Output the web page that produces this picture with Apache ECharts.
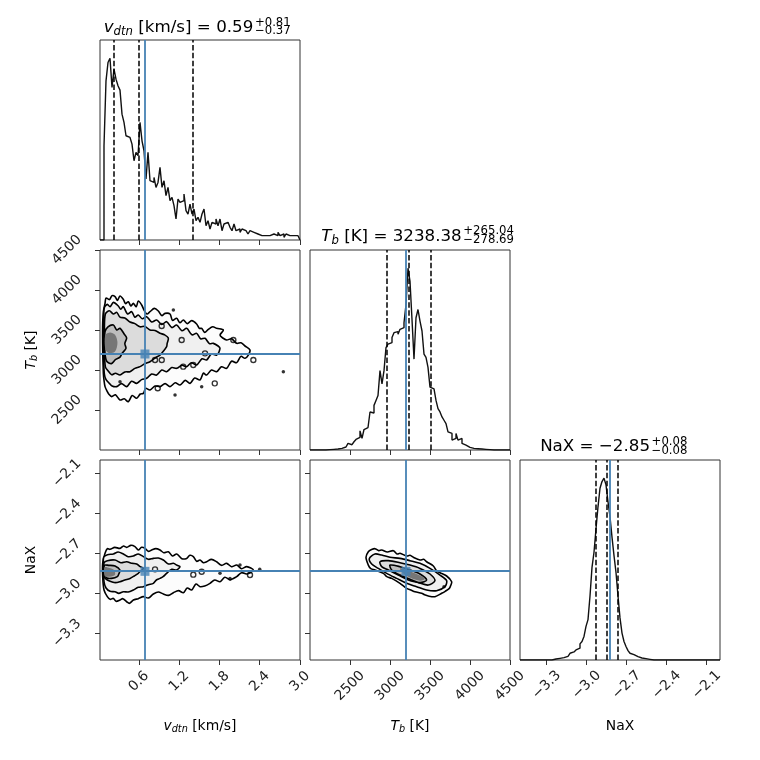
<!DOCTYPE html>
<html><head><meta charset="utf-8">
<script src="https://cdn.jsdelivr.net/npm/echarts@6/dist/echarts.min.js"></script>
<style>html,body{margin:0;padding:0;background:#fff}#c{width:760px;height:760px}</style>
</head><body><div id="c"></div>
<script>
// ---------------- data ----------------
const vRange = [0.02, 3.0];
const tRange = [2000, 4500];
const nRange = [-3.5, -2.0];
const vTicks = [0.6, 1.2, 1.8, 2.4, 3.0];
const tTicks = [2500, 3000, 3500, 4000, 4500];
const nTicks = [-3.3, -3.0, -2.7, -2.4, -2.1];
const truthV = 0.69, truthT = 3200, truthN = -2.835;
const vQuant = [0.22, 0.59, 1.40];
const tQuant = [2959.69, 3238.38, 3503.42];
const nQuant = [-2.93, -2.85, -2.77];

const histV = [
 0, 0, 283, 478, 533, 546, 458, 513, 483, 463,
 450, 378, 353, 313, 308, 303, 288, 238, 263, 253,
 353, 298, 268, 183, 263, 178, 173, 188, 158, 173,
 218, 158, 178, 133, 158, 118, 128, 103, 63, 123,
 113, 118, 138, 88, 78, 108, 78, 93, 58, 68,
 53, 78, 93, 43, 58, 33, 53, 48, 63, 43,
 63, 28, 48, 53, 53, 38, 28, 48, 28, 33,
 23, 33, 28, 28, 18, 28, 23, 18, 18, 13,
 13, 18, 13, 18, 13, 13, 18, 18, 13, 23,
 13, 18, 8, 18, 13, 8, 13, 8, 13, 8];
const histT = [
 0, 0, 0, 0, 0, 0, 0, 0, 0, 1,
 1, 2, 2, 3, 4, 5, 7, 9, 12, 20,
 16, 22, 25, 32, 38, 58, 35, 62, 68, 72,
 115, 112, 135, 150, 165, 240, 200, 240, 310, 320,
 325, 340, 355, 358, 350, 365, 370, 385, 440, 550,
 510, 395, 275, 400, 425, 390, 360, 290, 280, 250,
 190, 185, 180, 150, 125, 115, 100, 90, 80, 55,
 50, 30, 35, 50, 30, 35, 20, 15, 10, 8,
 7, 5, 5, 4, 3, 3, 2, 2, 1, 1,
 0, 0, 0, 0, 0, 0, 0, 0, 0, 0];
const histN = [
 0, 0, 0, 0, 0, 0, 0, 0, 0, 0,
 0, 0, 0, 0, 0, 0, 2, 3, 4, 5,
 6, 7, 9, 11, 14, 20, 24, 25, 30, 35,
 48, 55, 70, 100, 120, 190, 275, 320, 390, 455,
 510, 530, 540, 520, 470, 425, 365, 310, 260, 190,
 125, 80, 55, 40, 28, 20, 16, 12, 10, 7,
 6, 5, 4, 3, 2, 0, 0, 0, 0, 0,
 0, 0, 0, 0, 0, 0, 0, 0, 0, 0,
 0, 0, 0, 0, 0, 0, 0, 0, 0, 0,
 0, 0, 0, 0, 0, 0, 0, 0, 0, 0];

// contours: v_dtn vs T_b
const vtC1 = [[0.095,3833],[0.11,3900],[0.16,3880],[0.2,3930],[0.244,3917],[0.28,3870],[0.318,3925],[0.368,3883],[0.40,3830],[0.442,3854],[0.48,3800],[0.517,3833],[0.56,3790],[0.591,3862],[0.641,3812],[0.676,3750],[0.72,3700],[0.765,3729],[0.83,3770],[0.889,3737],[0.94,3680],[0.989,3708],[1.063,3700],[1.10,3620],[1.162,3646],[1.21,3590],[1.262,3625],[1.32,3580],[1.386,3617],[1.460,3575],[1.50,3520],[1.535,3521],[1.58,3470],[1.634,3508],[1.70,3540],[1.758,3521],[1.858,3500],[1.808,3437],[1.85,3400],[1.907,3375],[1.98,3390],[2.057,3333],[2.12,3340],[2.181,3300],[2.255,3250],[2.230,3187],[2.181,3146],[2.12,3170],[2.057,3092],[1.98,3110],[1.907,3021],[1.83,3040],[1.758,2979],[1.68,3000],[1.609,2937],[1.56,2960],[1.510,2875],[1.43,2900],[1.361,2833],[1.29,2870],[1.212,2812],[1.14,2840],[1.063,2792],[0.99,2830],[0.914,2792],[0.84,2800],[0.765,2750],[0.70,2770],[0.666,2708],[0.62,2700],[0.566,2646],[0.50,2680],[0.442,2604],[0.38,2640],[0.318,2625],[0.25,2690],[0.194,2667],[0.150,2700],[0.129,2729],[0.095,2792],[0.080,2870],[0.070,2958],[0.065,3100],[0.060,3250],[0.058,3420],[0.060,3583],[0.070,3729]];
const vtC2 = [[0.085,3780],[0.13,3820],[0.17,3790],[0.22,3845],[0.293,3800],[0.33,3760],[0.368,3792],[0.43,3700],[0.492,3729],[0.54,3660],[0.591,3687],[0.65,3640],[0.715,3667],[0.79,3600],[0.864,3625],[0.94,3570],[1.013,3604],[1.09,3530],[1.162,3562],[1.24,3490],[1.311,3521],[1.39,3440],[1.460,3458],[1.52,3390],[1.585,3396],[1.65,3330],[1.709,3333],[1.78,3300],[1.808,3271],[1.758,3187],[1.68,3200],[1.609,3125],[1.54,3140],[1.460,3062],[1.38,3090],[1.311,3042],[1.24,3060],[1.162,3021],[1.09,3030],[1.013,2979],[0.94,3000],[0.864,2937],[0.79,2950],[0.715,2896],[0.64,2880],[0.566,2833],[0.49,2860],[0.417,2792],[0.34,2830],[0.268,2792],[0.2,2800],[0.159,2833],[0.11,2880],[0.085,2950],[0.072,3167],[0.072,3400],[0.075,3600]];
const vtC3 = [[0.10,3700],[0.16,3740],[0.219,3700],[0.27,3720],[0.318,3660],[0.39,3650],[0.467,3600],[0.54,3580],[0.616,3540],[0.69,3545],[0.765,3500],[0.84,3495],[0.914,3460],[0.98,3440],[1.038,3400],[1.02,3330],[1.013,3292],[0.96,3230],[0.914,3187],[0.84,3150],[0.765,3104],[0.69,3080],[0.616,3042],[0.54,3020],[0.467,2979],[0.39,2975],[0.318,2937],[0.25,2960],[0.194,2940],[0.14,2990],[0.10,3040],[0.085,3250],[0.085,3500]];
const vtC4 = [[0.095,3480],[0.139,3540],[0.219,3562],[0.27,3500],[0.318,3521],[0.38,3450],[0.417,3400],[0.39,3330],[0.407,3270],[0.35,3210],[0.318,3160],[0.25,3130],[0.19,3080],[0.12,3110],[0.095,3200],[0.090,3350]];
const vtCore = [[0.10,3440],[0.17,3470],[0.244,3440],[0.28,3340],[0.244,3230],[0.16,3210],[0.10,3260]];
const vtRings = [[0.939,3550],[1.237,3375],[1.585,3208],[2.305,3125],[2.007,3375],[0.84,3125],[0.94,3125],[1.26,3042],[1.41,3062],[0.88,2771],[1.73,2833]];
const vtDots = [[2.752,2979],[1.535,2792],[1.138,2687],[1.113,3750],[0.318,2854]];

// contours: v_dtn vs NaX
const vnC1 = [[0.095,-2.700],[0.13,-2.665],[0.169,-2.670],[0.24,-2.655],[0.318,-2.663],[0.37,-2.645],[0.417,-2.655],[0.48,-2.640],[0.541,-2.650],[0.591,-2.675],[0.64,-2.655],[0.691,-2.663],[0.74,-2.685],[0.790,-2.675],[0.85,-2.665],[0.914,-2.675],[0.97,-2.695],[1.038,-2.688],[1.10,-2.720],[1.162,-2.705],[1.24,-2.740],[1.311,-2.738],[1.36,-2.715],[1.411,-2.725],[1.46,-2.760],[1.510,-2.750],[1.56,-2.770],[1.609,-2.763],[1.68,-2.745],[1.758,-2.763],[1.83,-2.790],[1.907,-2.775],[1.98,-2.800],[2.057,-2.788],[2.13,-2.815],[2.206,-2.800],[2.305,-2.825],[2.206,-2.855],[2.13,-2.845],[2.057,-2.875],[1.98,-2.895],[1.957,-2.900],[1.88,-2.880],[1.808,-2.913],[1.73,-2.900],[1.659,-2.925],[1.58,-2.945],[1.510,-2.950],[1.45,-2.930],[1.386,-2.975],[1.32,-2.960],[1.262,-2.995],[1.19,-2.980],[1.113,-2.995],[1.04,-3.015],[0.964,-3.005],[0.89,-2.990],[0.815,-3.005],[0.74,-3.035],[0.666,-3.025],[0.59,-3.040],[0.517,-3.050],[0.46,-3.075],[0.417,-3.063],[0.36,-3.040],[0.318,-3.050],[0.26,-3.060],[0.219,-3.038],[0.17,-3.045],[0.129,-3.025],[0.080,-2.975],[0.060,-2.875],[0.060,-2.775]];
const vnC2 = [[0.075,-2.73],[0.13,-2.71],[0.219,-2.705],[0.29,-2.690],[0.368,-2.705],[0.44,-2.725],[0.517,-2.720],[0.59,-2.705],[0.666,-2.725],[0.74,-2.745],[0.815,-2.738],[0.89,-2.735],[0.964,-2.750],[1.04,-2.780],[1.113,-2.775],[1.17,-2.790],[1.212,-2.800],[1.162,-2.825],[1.09,-2.820],[1.013,-2.850],[0.96,-2.875],[0.914,-2.888],[0.86,-2.900],[0.815,-2.925],[0.74,-2.935],[0.666,-2.950],[0.59,-2.955],[0.517,-2.975],[0.44,-2.990],[0.368,-2.988],[0.30,-3.000],[0.244,-2.988],[0.17,-2.985],[0.11,-2.960],[0.08,-2.913],[0.072,-2.800]];
const vnC3 = [[0.08,-2.77],[0.129,-2.755],[0.244,-2.750],[0.33,-2.770],[0.417,-2.763],[0.50,-2.775],[0.566,-2.780],[0.62,-2.800],[0.666,-2.813],[0.62,-2.835],[0.591,-2.850],[0.53,-2.870],[0.467,-2.888],[0.39,-2.900],[0.318,-2.913],[0.25,-2.920],[0.194,-2.913],[0.129,-2.900],[0.085,-2.88],[0.08,-2.825]];
const vnC4 = [[0.085,-2.79],[0.149,-2.790],[0.244,-2.795],[0.318,-2.825],[0.30,-2.855],[0.278,-2.875],[0.194,-2.888],[0.12,-2.885],[0.085,-2.86]];
const vnCore = [[0.09,-2.805],[0.16,-2.81],[0.229,-2.825],[0.244,-2.86],[0.17,-2.875],[0.09,-2.87]];
const vnRings = [[1.535,-2.838],[2.255,-2.863],[0.84,-2.82],[1.41,-2.86]];
const vnDots = [[2.106,-2.788],[1.957,-2.888],[1.808,-2.850],[2.40,-2.82]];

// contours: T_b vs NaX
const tnC1 = [[2700,-2.730],[2729,-2.688],[2770,-2.672],[2812,-2.665],[2860,-2.680],[2896,-2.675],[2967,-2.690],[3042,-2.680],[3090,-2.705],[3125,-2.700],[3208,-2.720],[3250,-2.715],[3292,-2.730],[3375,-2.750],[3420,-2.745],[3458,-2.763],[3542,-2.795],[3580,-2.830],[3625,-2.845],[3708,-2.870],[3771,-2.913],[3760,-2.940],[3742,-2.963],[3690,-2.985],[3646,-3.000],[3562,-3.025],[3479,-3.020],[3430,-3.010],[3396,-3.000],[3312,-2.988],[3260,-2.975],[3208,-2.963],[3125,-2.925],[3021,-2.888],[2960,-2.875],[2917,-2.850],[2812,-2.825],[2760,-2.815],[2729,-2.788]];
const tnC2 = [[2742,-2.738],[2812,-2.705],[2896,-2.713],[3000,-2.730],[3125,-2.738],[3250,-2.755],[3375,-2.775],[3500,-2.813],[3625,-2.863],[3708,-2.905],[3687,-2.950],[3583,-2.980],[3458,-2.975],[3333,-2.950],[3208,-2.925],[3083,-2.888],[2958,-2.850],[2854,-2.813],[2771,-2.780]];
const tnC3 = [[2875,-2.763],[2979,-2.755],[3125,-2.770],[3250,-2.788],[3375,-2.813],[3500,-2.855],[3562,-2.905],[3479,-2.938],[3354,-2.920],[3229,-2.900],[3104,-2.863],[2979,-2.825],[2896,-2.800]];
const tnC4 = [[3000,-2.788],[3125,-2.800],[3250,-2.825],[3375,-2.855],[3458,-2.900],[3375,-2.920],[3250,-2.895],[3125,-2.863],[3021,-2.825]];
const tnCore = [[3125,-2.813],[3292,-2.845],[3437,-2.888],[3375,-2.905],[3208,-2.870]];
const tnRings = [];
const tnDots = [[3675,-2.950]];

// ---------------- styling ----------------
const FF = '"DejaVu Sans"';
const BLUE = '#4682b4';
const FILLS = ['#fcfcfc', '#f0f0f0', '#dcdcdc', '#bdbdbd', '#767676'];
const fmt1 = v => v.toFixed(1).replace('-', '\u2212');
const fmtT = v => String(Math.round(v));

function axisDef(gi, range, ticks, fmt, showLabels, margin) {
  return {type: 'value', gridIndex: gi, min: range[0], max: range[1],
    axisLine: {show: false}, splitLine: {show: false},
    axisTick: {show: true, inside: false, length: 5, customValues: ticks, lineStyle: {color: '#333', width: 1}},
    axisLabel: {show: showLabels, customValues: ticks, rotate: 45, align: 'center', verticalAlign: 'middle',
      margin: margin, formatter: fmt, fontFamily: 'DejaVu Sans', fontSize: 13.9, color: '#222'}};
}
function histY(gi, h) {
  return {type: 'value', gridIndex: gi, min: 0, max: 1.1 * Math.max(...h), show: false,
    axisLine: {show: false}, splitLine: {show: false}, axisTick: {show: false}, axisLabel: {show: false}};
}
function stepPoints(h, range) {
  const n = h.length, w = (range[1] - range[0]) / n;
  const pts = [[range[0], 0]];
  h.forEach((c, i) => { const a = range[0] + i * w; pts.push([a, c], [a + w, c]); });
  pts.push([range[1], 0]);
  return pts;
}
function histSeries(i, h, range, quant, truth) {
  return {type: 'line', xAxisIndex: i, yAxisIndex: i, data: stepPoints(h, range), symbol: 'none', showSymbol: false,
    lineStyle: {color: '#111', width: 1.4}, animation: false, silent: true, z: 3,
    markLine: {silent: true, symbol: ['none', 'none'], label: {show: false}, animation: false,
      data: quant.map(q => ({xAxis: q, lineStyle: {color: '#000', width: 1.5, type: [5.5, 2.4]}}))
        .concat([{xAxis: truth, lineStyle: {color: BLUE, width: 1.8, type: 'solid'}}])}};
}
function contourSeries(i, levels) {
  return {type: 'custom', coordinateSystem: 'cartesian2d', xAxisIndex: i, yAxisIndex: i, silent: true, animation: false, z: 2,
    data: levels.map((p, k) => [p[0][0], p[0][1], k]), encode: {x: 0, y: 1},
    renderItem(params, api) {
      const k = params.dataIndex, p = levels[k], core = k === levels.length - 1;
      return {type: 'polygon', shape: {points: p.map(q => api.coord(q)), smooth: 0.3},
        style: {fill: FILLS[k], stroke: core ? 'none' : '#000', lineWidth: 1.6}};
    }};
}
function markSeries(i, rings, dots, tx, ty) {
  return [
    {type: 'scatter', xAxisIndex: i, yAxisIndex: i, data: rings, symbol: 'circle', symbolSize: 5, silent: true, animation: false, z: 3,
      itemStyle: {color: 'rgba(0,0,0,0)', borderColor: '#000', borderWidth: 1.4}},
    {type: 'scatter', xAxisIndex: i, yAxisIndex: i, data: dots, symbol: 'circle', symbolSize: 3.5, silent: true, animation: false, z: 3,
      itemStyle: {color: '#000'}},
    {type: 'scatter', xAxisIndex: i, yAxisIndex: i, data: [[tx, ty]], symbol: 'rect', symbolSize: 9, silent: true, animation: false, z: 6,
      itemStyle: {color: BLUE},
      markLine: {silent: true, symbol: ['none', 'none'], label: {show: false}, animation: false,
        lineStyle: {color: BLUE, width: 1.8, type: 'solid'}, data: [{xAxis: tx}, {yAxis: ty}]}}
  ];
}

// ---------------- text (mathtext-like) ----------------
const ctx = document.createElement('canvas').getContext('2d');
function fnt(s, it) { return (it ? 'italic ' : '') + s + 'px ' + FF; }
function wid(p) { ctx.font = fnt(p.s, p.it); return ctx.measureText(p.t).width; }
function midOff(s) {
  ctx.font = fnt(s, false); ctx.textBaseline = 'alphabetic';
  const m = ctx.measureText('Hg');
  if (m.fontBoundingBoxAscent) return (m.fontBoundingBoxAscent - m.fontBoundingBoxDescent) / 2;
  return 0.346 * s;
}
function txt(p, x, baseY) {
  return {type: 'text', x: x, y: baseY + (p.dy || 0) - midOff(p.s), silent: true, z: 100,
    style: {text: p.t, font: fnt(p.s, p.it), fill: '#000', align: 'left', verticalAlign: 'middle',
      textAlign: 'left', textVerticalAlign: 'middle'}};
}
function runW(items) { return items.reduce((w, it) => w + (it.stack ? Math.max(...it.stack.map(wid)) : wid(it)), 0); }
function place(items, x0, baseY) {
  const out = []; let x = x0;
  items.forEach(it => {
    const list = it.stack || [it]; let w = 0;
    list.forEach(p => { out.push(txt(p, x, baseY)); w = Math.max(w, wid(p)); });
    x += w;
  });
  return out;
}
function title(main, sup, sub, anchor, baseY) {
  const m = place(main, anchor - runW(main), baseY);
  return m.concat(place([{stack: [sup, sub]}], anchor + 1.6, baseY));
}
function centered(items, cx, baseY) { return place(items, cx - runW(items) / 2, baseY); }
function rotated(items, cx, cy) {
  return {type: 'group', x: cx, y: cy, rotation: Math.PI / 2, z: 100, children: place(items, -runW(items) / 2, 0)};
}

const TS = 16.7, TSS = 11.7, LS = 13.9, LSS = 9.7;
const graphics = []
  .concat(title([{t: 'v', s: TS, it: true}, {t: 'dtn', s: TSS, it: true, dy: 2.5}, {t: ' [km/s] = 0.59', s: TS}],
    {t: '+0.81', s: TSS, dy: -6.6}, {t: '\u22120.37', s: TSS, dy: 1.7}, 253.3, 33.3))
  .concat(title([{t: 'T', s: TS, it: true}, {t: 'b', s: TSS, it: true, dy: 2.5}, {t: ' [K] = 3238.38', s: TS}],
    {t: '+265.04', s: TSS, dy: -7.0}, {t: '\u2212278.69', s: TSS, dy: 1.2}, 461.7, 242.3))
  .concat(title([{t: 'NaX = \u22122.85', s: TS}],
    {t: '+0.08', s: TSS, dy: -6.8}, {t: '\u22120.08', s: TSS, dy: 2.5}, 650, 452.5))
  .concat(centered([{t: 'v', s: LS, it: true}, {t: 'dtn', s: LSS, it: true, dy: 2}, {t: ' [km/s]', s: LS}], 200, 731))
  .concat(centered([{t: 'T', s: LS, it: true}, {t: 'b', s: LSS, it: true, dy: 2}, {t: ' [K]', s: LS}], 410, 731))
  .concat(centered([{t: 'NaX', s: LS}], 620, 731));
graphics.push(rotated([{t: 'T', s: LS, it: true}, {t: 'b', s: LSS, it: true, dy: 2}, {t: ' [K]', s: LS}], 36, 350));
graphics.push(rotated([{t: 'NaX', s: LS}], 36.7, 560));

// ---------------- option ----------------
const gridPos = [[100, 40], [100, 250], [310, 250], [100, 460], [310, 460], [520, 460]];
const option = {
  animation: false,
  backgroundColor: '#ffffff',
  grid: gridPos.map(p => ({left: p[0], top: p[1], width: 200, height: 200, show: true, borderColor: '#333', borderWidth: 1,
    backgroundColor: 'rgba(0,0,0,0)', containLabel: false, outerBoundsMode: 'none'})),
  xAxis: [
    axisDef(0, vRange, vTicks, fmt1, false, 21.5),
    axisDef(1, vRange, vTicks, fmt1, false, 21.5),
    axisDef(2, tRange, tTicks, fmtT, false, 26),
    axisDef(3, vRange, vTicks, fmt1, true, 21.5),
    axisDef(4, tRange, tTicks, fmtT, true, 26),
    axisDef(5, nRange, nTicks, fmt1, true, 25)
  ],
  yAxis: [
    histY(0, histV),
    axisDef(1, tRange, tTicks, fmtT, true, 33),
    histY(2, histT),
    axisDef(3, nRange, nTicks, fmt1, true, 33),
    axisDef(4, nRange, nTicks, fmt1, false, 33),
    histY(5, histN)
  ],
  series: [
    histSeries(0, histV, vRange, vQuant, truthV),
    histSeries(2, histT, tRange, tQuant, truthT),
    histSeries(5, histN, nRange, nQuant, truthN),
    contourSeries(1, [vtC1, vtC2, vtC3, vtC4, vtCore]),
    contourSeries(3, [vnC1, vnC2, vnC3, vnC4, vnCore]),
    contourSeries(4, [tnC1, tnC2, tnC3, tnC4, tnCore])
  ].concat(markSeries(1, vtRings, vtDots, truthV, truthT))
   .concat(markSeries(3, vnRings, vnDots, truthV, truthN))
   .concat(markSeries(4, tnRings, tnDots, truthT, truthN)),
  graphic: {elements: graphics}
};
const chart = echarts.init(document.getElementById('c'), null, {renderer: 'canvas', width: 760, height: 760});
chart.setOption(option);
</script>
</body></html>
